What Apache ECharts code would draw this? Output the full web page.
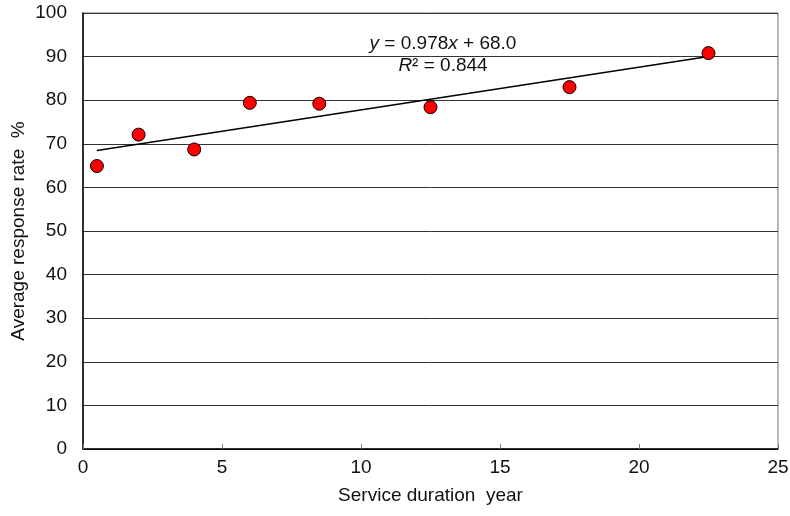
<!DOCTYPE html>
<html><head><meta charset="utf-8">
<script src="https://cdn.jsdelivr.net/npm/echarts@6/dist/echarts.min.js"></script>
<style>html,body{margin:0;padding:0;background:#fff}#c{width:790px;height:516px}</style>
</head><body><div id="c"></div>
<script>
const xValues = [0.5, 2, 4, 6, 8.5, 12.5, 17.5, 22.5];
const yValues = [64.9, 72.1, 68.7, 79.4, 79.2, 78.4, 83.0, 90.8];
const trendSlope = 0.978;
const trendIntercept = 68.0;
const trendX = [0.5, 22.5];

const chart = echarts.init(document.getElementById('c'), null, {renderer: 'canvas'});
const font = 'Liberation Sans, Arial, sans-serif';
const fs = 19;
chart.setOption({
  animation: false,
  backgroundColor: '#fff',
  grid: {left: 83, right: 12, top: 13, bottom: 67, show: true, borderColor: '#777', borderWidth: 1,
         containLabel: false, outerBoundsMode: 'none'},
  xAxis: {
    type: 'value', min: 0, max: 25, interval: 5,
    name: 'Service duration  year', nameLocation: 'middle', nameGap: 37,
    nameTextStyle: {fontFamily: font, fontSize: fs, color: '#111'},
    axisLine: {show: true, onZero: false, lineStyle: {color: '#000', width: 1.5}},
    axisTick: {show: true, inside: true, length: 5, lineStyle: {color: '#777'}},
    axisLabel: {fontFamily: font, fontSize: fs, color: '#111', margin: 9},
    splitLine: {show: false}
  },
  yAxis: {
    type: 'value', min: 0, max: 100, interval: 10,
    name: 'Average response rate  %', nameLocation: 'middle', nameGap: 55,
    nameMoveOverlap: false,
    nameTextStyle: {fontFamily: font, fontSize: fs, color: '#111'},
    axisLine: {show: true, lineStyle: {color: '#000', width: 1.5}},
    axisTick: {show: false},
    axisLabel: {fontFamily: font, fontSize: fs, color: '#111', margin: 16},
    splitLine: {show: true, lineStyle: {color: '#333', width: 1}}
  },
  series: [
    {
      type: 'line',
      data: trendX.map(x => [x, trendSlope * x + trendIntercept]),
      showSymbol: false, symbol: 'none',
      lineStyle: {color: '#000', width: 1.5},
      z: 2
    },
    {
      type: 'scatter',
      data: xValues.map((x, i) => [x, yValues[i]]),
      symbol: 'circle', symbolSize: 13,
      itemStyle: {color: '#ff0000', borderColor: '#000', borderWidth: 1, opacity: 1},
      z: 3
    }
  ],
  graphic: [
    {
      type: 'text', x: 443, y: 44,
      style: {
        text: '{i|y} = 0.978{i|x} + 68.0', rich: {i: {fontStyle: 'italic', fontFamily: font, fontSize: fs, fill: '#111'}},
        fontFamily: font, fontSize: fs, fill: '#111', align: 'center', verticalAlign: 'middle'
      }
    },
    {
      type: 'text', x: 443, y: 66,
      style: {
        text: '{i|R}² = 0.844', rich: {i: {fontStyle: 'italic', fontFamily: font, fontSize: fs, fill: '#111'}},
        fontFamily: font, fontSize: fs, fill: '#111', align: 'center', verticalAlign: 'middle'
      }
    }
  ]
});
</script></body></html>
